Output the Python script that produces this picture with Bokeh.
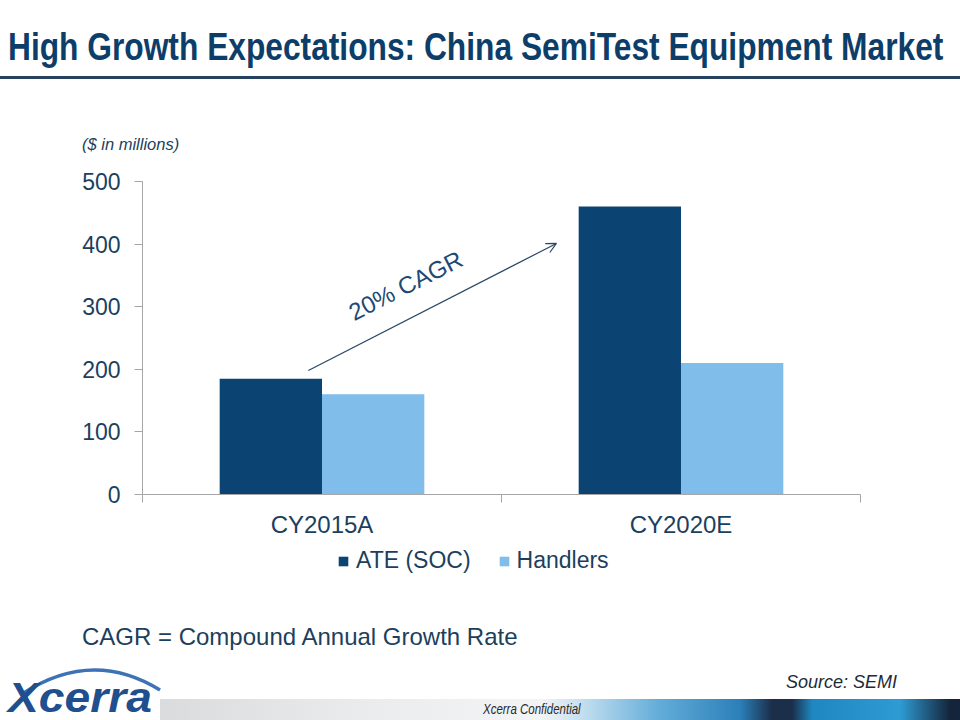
from bokeh.plotting import figure
from bokeh.layouts import column
from bokeh.models import (ColumnDataSource, Range1d, Label, Arrow, OpenHead, Legend,
                          LegendItem, FixedTicker, Div, BoxAnnotation)
from bokeh.embed import file_html
from bokeh.resources import INLINE

# ---------------- data ----------------
categories = ["CY2015A", "CY2020E"]
ate_soc = [185, 460]
handlers = [160, 210]
series_names = ["ATE (SOC)", "Handlers"]
cagr_label = "20% CAGR"
y_ticks = [0, 100, 200, 300, 400, 500]

TITLE = "High Growth Expectations: China SemiTest Equipment Market"
Y_NOTE = "($ in millions)"
FOOTNOTE = "CAGR = Compound Annual Growth Rate"
SOURCE = "Source: SEMI"
CONFIDENTIAL = "Xcerra Confidential"
LOGO = "Xcerra"

NAVY = "#0b4472"
LIGHT = "#80bdea"
TXT = "#1c3f5e"
AXIS = "#a6a6a6"
SANS = "'Liberation Sans', Arial, sans-serif"

W = 960
TOP_H = 160            # page 0..160
MID_H = 386            # page 160..546
LEG_H = 40             # page 546..586
BOT_H = 720 - TOP_H - MID_H - LEG_H
FL, FR, FT, FB = 142, 860, 181, 494   # chart frame edges on the page


def top_of(baseline, size):
    return baseline - 0.8465 * size


def span(text, left, baseline, size, color, extra="", right=None, sx=None):
    pos = f"left:{left}px;" if right is None else f"right:{right}px;"
    tr = f"transform:scaleX({sx});transform-origin:0 0;" if sx else ""
    return (f'<div style="position:absolute;{pos}top:{top_of(baseline, size):.1f}px;'
            f'white-space:nowrap;font-family:{SANS};font-size:{size}px;'
            f'line-height:{size}px;color:{color};{tr}{extra}">{text}</div>')


# ---------------- top: title ----------------
top_html = (
    f'<div style="position:relative;width:{W}px;height:{TOP_H}px;overflow:hidden;'
    f'background:white;margin:0;padding:0;">'
    + span(TITLE, 8, 61, 38.7, "#0d3e69", "font-weight:bold;", sx=0.82)
    + '<div style="position:absolute;left:0;top:76px;width:960px;height:3px;'
      'background:#26425f;"></div>'
    + span(Y_NOTE, 82, 150, 16.5, TXT, "font-style:italic;")
    + '</div>')
top = Div(text=top_html, width=W, height=TOP_H, margin=0)

# ---------------- middle: chart ----------------
n = len(categories)
centers = [i + 0.5 for i in range(n)]
bw = 0.285
src = ColumnDataSource(dict(
    x_ate=[c - bw / 2 for c in centers], x_han=[c + bw / 2 for c in centers],
    ate=ate_soc, han=handlers))

p = figure(width=W, height=MID_H, output_backend="svg", toolbar_location=None,
           x_range=Range1d(0, n), y_range=Range1d(0, 500),
           min_border_left=FL, min_border_right=W - FR,
           min_border_top=FT - TOP_H, min_border_bottom=TOP_H + MID_H - FB,
           margin=0)
p.outline_line_color = None
p.background_fill_color = "white"
p.border_fill_color = "white"
p.xgrid.visible = False
p.ygrid.visible = False

r1 = p.vbar(x="x_ate", top="ate", width=bw, source=src, fill_color=NAVY, line_color=None)
r2 = p.vbar(x="x_han", top="han", width=bw, source=src, fill_color=LIGHT, line_color=None)

p.yaxis.ticker = FixedTicker(ticks=y_ticks)
p.yaxis.minor_tick_line_color = None
p.yaxis.axis_line_color = AXIS
p.yaxis.major_tick_line_color = AXIS
p.yaxis.major_tick_out = 8
p.yaxis.major_tick_in = 0
p.yaxis.major_label_standoff = 14
p.yaxis.major_label_text_font = "Liberation Sans"
p.yaxis.major_label_text_font_size = "23px"
p.yaxis.major_label_text_color = TXT

p.xaxis.ticker = FixedTicker(ticks=centers, minor_ticks=list(range(n + 1)))
p.xaxis.major_label_overrides = {c: lab for c, lab in zip(centers, categories)}
p.xaxis.axis_line_color = AXIS
p.xaxis.major_tick_line_color = None
p.xaxis.minor_tick_line_color = AXIS
p.xaxis.minor_tick_out = 8
p.xaxis.minor_tick_in = 0
p.xaxis.major_label_standoff = 8
p.xaxis.major_label_text_font = "Liberation Sans"
p.xaxis.major_label_text_font_size = "24px"
p.xaxis.major_label_text_color = TXT

# CAGR arrow + label
p.add_layout(Arrow(x_start=0.462, y_start=198, x_end=1.153, y_end=401,
                   line_color="#2a4866", line_width=1.2,
                   end=OpenHead(size=10, line_color="#2a4866", line_width=1.2)))
p.add_layout(Label(x=0.733, y=334, text=cagr_label, angle=27, angle_units="deg",
                   text_align="center", text_baseline="middle",
                   text_font="Liberation Sans", text_font_size="24px",
                   text_color="#1c4a74"))

# ---------------- legend strip ----------------
# The same bar series keyed here; a white cover hides the duplicate bars under the legend.
lg = figure(width=W, height=LEG_H, output_backend="svg", toolbar_location=None,
            x_range=Range1d(0, n), y_range=Range1d(0, 500),
            x_axis_type=None, y_axis_type=None, min_border=0,
            min_border_top=0, min_border_bottom=0, margin=0)
lg.outline_line_color = None
lg.xgrid.visible = False
lg.ygrid.visible = False
lg.background_fill_color = "white"
lg.border_fill_color = "white"
d1 = lg.vbar(x="x_ate", top="ate", width=bw, source=src, fill_color=NAVY, line_color=None)
d2 = lg.vbar(x="x_han", top="han", width=bw, source=src, fill_color=LIGHT, line_color=None)
lg.add_layout(BoxAnnotation(fill_color="white", fill_alpha=1, line_color=None))
legend = Legend(items=[LegendItem(label=series_names[0], renderers=[d1]),
                       LegendItem(label=series_names[1], renderers=[d2])],
                orientation="horizontal", location=(195, 12),
                glyph_width=12, glyph_height=12, label_standoff=7, spacing=27,
                padding=0, margin=0, border_line_color=None,
                background_fill_alpha=0,
                label_text_font="Liberation Sans", label_text_font_size="23px",
                label_text_color=TXT)
lg.add_layout(legend, "center")

# ---------------- bottom: notes and footer ----------------
y0 = TOP_H + MID_H + LEG_H
grad = ("linear-gradient(to right, #d9dbdd 0px, #e9ebec 200px, #f3f4f5 380px, "
        "#c6e0f0 420px, #62acd9 500px, #2b80b9 580px, #1b2e4a 612px, #1b2e4a 632px, "
        "#1f86c0 652px, #2e9bd3 740px, #14253b 790px)")
bot_html = (
    f'<div style="position:relative;width:{W}px;height:{BOT_H}px;overflow:hidden;'
    f'background:white;margin:0;padding:0;">'
    + span(FOOTNOTE, 82, 645 - y0, 24, TXT)
    + span(SOURCE, 0, 688 - y0, 18, "#1e2b38", "font-style:italic;", right=63)
    + f'<div style="position:absolute;left:160px;top:{699 - y0}px;width:800px;height:21px;'
      f'background:{grad};"></div>'
    + span(CONFIDENTIAL, 483, 714 - y0, 14, "#2a2a2a", "font-style:italic;", sx=0.82)
    + f'<svg style="position:absolute;left:0;top:0;" width="200" height="{BOT_H}">'
      f'<path d="M22,{694 - y0} Q92,{648 - y0} 160,{690 - y0}" fill="none" '
      f'stroke="#3d72b6" stroke-width="3.5"/></svg>'
    + span(LOGO, 8, 713 - y0, 42, "#1f4f8e",
           "font-weight:bold;font-style:italic;", sx=1.1)
    + '</div>')
bot = Div(text=bot_html, width=W, height=BOT_H, margin=0)

layout = column(top, p, lg, bot, spacing=0, margin=0)
open("out.html", "w").write(file_html(layout, INLINE))
